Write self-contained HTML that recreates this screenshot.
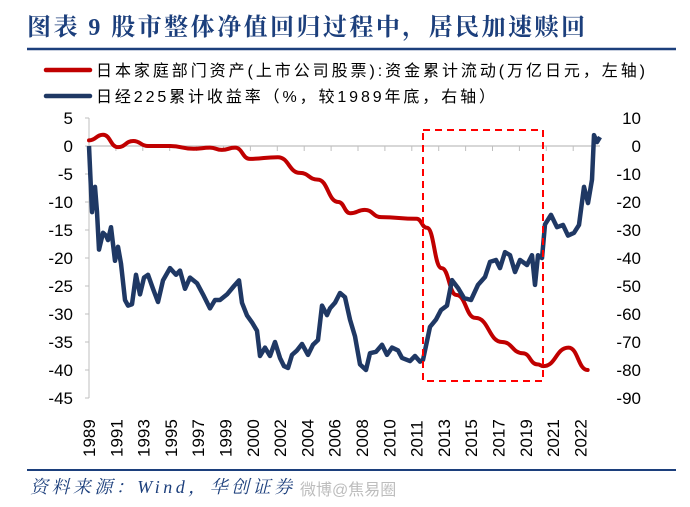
<!DOCTYPE html>
<html><head><meta charset="utf-8">
<style>
body{margin:0;width:690px;height:507px;background:#fff;overflow:hidden;font-family:"Liberation Sans","Noto Sans CJK SC",sans-serif;}
svg{position:absolute;left:0;top:0}
</style></head>
<body>
<svg id="chart" width="690" height="507" xmlns="http://www.w3.org/2000/svg">
<text x="27" y="35" textLength="558" lengthAdjust="spacing" font-family="'Liberation Serif','Noto Serif CJK SC',serif" font-weight="bold" font-size="24" fill="#1c3f7c">图表 9 股市整体净值回归过程中，居民加速赎回</text>
<line x1="27" y1="49" x2="676" y2="49" stroke="#1c3f7c" stroke-width="2.5"/>
<g>
<line x1="46" y1="70" x2="90" y2="70" stroke="#c00000" stroke-width="4.5" stroke-linecap="round"/>
<text x="96" y="76" textLength="549" lengthAdjust="spacing" font-size="16" fill="#000">日本家庭部门资产(上市公司股票):资金累计流动(万亿日元，左轴)</text>
<line x1="46" y1="96" x2="90" y2="96" stroke="#1f3864" stroke-width="4.5" stroke-linecap="round"/>
<text x="96" y="102" textLength="399" lengthAdjust="spacing" font-size="16" fill="#000">日经225累计收益率（%，较1989年底，右轴）</text>
</g>
<g id="axes"></g>
<g id="series"></g>
<rect x="423" y="130" width="120" height="251" fill="none" stroke="#ff0000" stroke-width="2" stroke-dasharray="7,5"/>
<line x1="27" y1="470" x2="676" y2="470" stroke="#1c3f7c" stroke-width="2"/>
<text x="30" y="493" textLength="262" lengthAdjust="spacing" font-family="'Liberation Serif','Noto Serif CJK SC',serif" font-style="italic" font-size="18" fill="#1c3f7c">资料来源：Wind，华创证券</text>
<text x="300" y="495" font-size="16" fill="#bdbdbd">微博@焦易圈</text>
</svg>
<script>
const leftTicks=[5,0,-5,-10,-15,-20,-25,-30,-35,-40,-45];
const rightTicks=[10,0,-10,-20,-30,-40,-50,-60,-70,-80,-90];
const yearLabels=["1989","1991","1993","1995","1997","1999","2000","2002","2004","2006","2008","2010","2011","2013","2015","2017","2019","2021","2022"];
const redT=[1989,1989.95,1990.96,1992.0,1993.0,1994.5,1996.1,1997.2,1998.0,1998.9,1999.9,2001.8,2003.3,2004.5,2005.9,2006.7,2007.7,2008.8,2011.2,2011.9,2012.9,2013.9,2015.2,2017.0,2018.4,2019.4,2019.8,2021.5,2022.8];
const redV=[1,2,-0.2,0.9,0,0,-0.5,-0.3,-0.7,-0.3,-2.3,-2,-4.8,-6,-10,-12,-11.4,-12.7,-13,-14.6,-21.8,-26.6,-30.7,-35,-37,-39,-39.3,-36,-40];
const blueX=[89,92,95,97,99,103,106,108,111,115,118,121,125,128,132,136,140,144,148,153,158,163,170,176,180,185,190,197,203,210,215,220,227,234,239,242,247,252,257,260,265,270,275,280,284,288,292,297,302,308,313,318,322,327,330,335,340,345,350,355,360,366,370,376,382,387,392,398,402,410,415,420,423,430,436,441,447,452,458,464,471,478,485,490,496,500,505,510,515,520,527,532,535,538,542,545,551,557,563,568,574,579,584,588,592,594,597,600];
const blueV=[0,-23.6,-14.6,-23.6,-37,-31,-32,-33.6,-29,-41,-36,-42,-55,-57,-56.5,-46,-53,-47,-46,-51,-55.7,-48,-43.6,-46,-44.5,-51,-47,-49,-53,-58,-55,-55,-53,-50,-48,-56,-60.5,-63,-66,-75,-72,-75,-70,-75.7,-78.6,-79.3,-74.6,-73,-70.7,-74.6,-71,-69.3,-57,-60.4,-58,-56,-52.5,-54,-62,-68,-78,-80,-74,-73.5,-71,-74.6,-72,-73,-75.7,-76.8,-75,-77,-76.4,-64.6,-62,-58.6,-57,-47.9,-50.7,-54.3,-55,-49.6,-46.8,-41.4,-40.7,-43.6,-37.9,-39,-45,-40.7,-42.5,-39,-49.6,-39,-40,-28,-24.6,-29,-28.2,-32,-31,-28.2,-14.6,-20.4,-12,3.9,1.4,3.2];
const NS='http://www.w3.org/2000/svg';
const X0=89,X1=598,T0=1989,T1=2023.5,YT=118,YB=398;
function xT(t){return X0+(t-T0)/(T1-T0)*(X1-X0);}
function yL(v){return YT+(5-v)/50*(YB-YT);}
function yR(v){return YT+(10-v)/100*(YB-YT);}
function mk(tag,attrs,parent){const e=document.createElementNS(NS,tag);for(const k in attrs)e.setAttribute(k,attrs[k]);parent.appendChild(e);return e;}
const axes=document.getElementById('axes'),ser=document.getElementById('series');
let el=mk('line',{x1:X0,y1:YT,x2:X0,y2:YB,stroke:'#bfbfbf','stroke-width':1},axes);


el=mk('line',{x1:X0,y1:yL(0),x2:X1+2,y2:yL(0),stroke:'#bfbfbf','stroke-width':1.2},axes);


for(let i=0;i<19;i++){const x=X0+26.9*i;if(x>X1+2)break;
 el=mk('line',{x1:x,y1:yL(0),x2:x,y2:yL(0)+5,stroke:'#bfbfbf'},axes);
 
 }
leftTicks.forEach(v=>{el=mk('text',{x:73,y:yL(v)+6,'text-anchor':'end','font-size':17,fill:'#000'},axes);el.textContent=v;
 
 
 const t=mk('line',{x1:X0-4,y1:yL(v),x2:X0,y2:yL(v),stroke:'#bfbfbf'},axes);
 
 });
rightTicks.forEach(v=>{el=mk('text',{x:641,y:yR(v)+6,'text-anchor':'end','font-size':17,fill:'#000'},axes);el.textContent=v;
 
 });
yearLabels.forEach((s,i)=>{const x=X0+27.3*i;el=mk('text',{x:0,y:0,transform:`translate(${x+6},457) rotate(-90)`,'font-size':17,fill:'#000'},axes);el.textContent=s;
 
 });
let pts=redT.map((t,i)=>[xT(t),yL(redV[i])]);
let d='M'+pts[0][0]+','+pts[0][1];
for(let i=1;i<pts.length;i++){const p0=pts[i-1],p1=pts[i];const mx=(p0[0]+p1[0])/2;d+=` C${mx},${p0[1]} ${mx},${p1[1]} ${p1[0]},${p1[1]}`;}
el=mk('path',{d:d,fill:'none',stroke:'#c00000','stroke-width':4,'stroke-linejoin':'round','stroke-linecap':'round'},ser);


const bd='M'+blueX.map((x,i)=>x+','+yR(blueV[i])).join(' L');
el=mk('path',{d:bd,fill:'none',stroke:'#1f3864','stroke-width':4.5,'stroke-linejoin':'round'},ser);


</script>
</body></html>
